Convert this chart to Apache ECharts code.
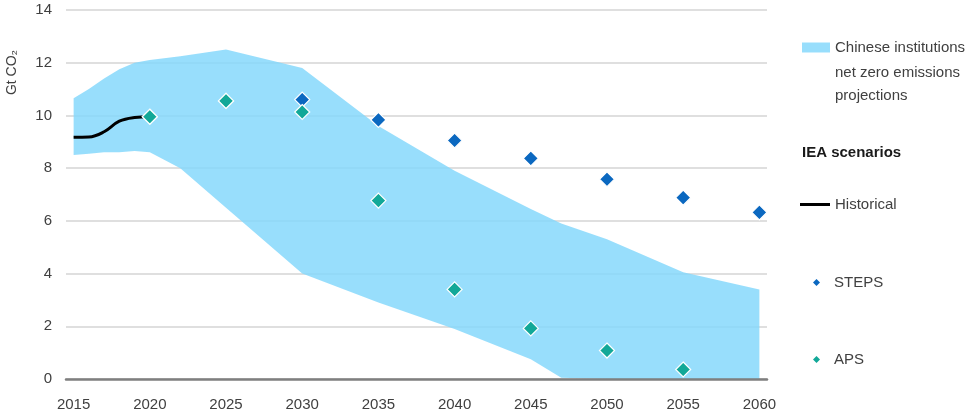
<!DOCTYPE html>
<html>
<head>
<meta charset="utf-8">
<script src="https://cdn.jsdelivr.net/npm/echarts@6/dist/echarts.min.js"></script>
<style>
  html, body { margin: 0; padding: 0; background: #fff; }
  #chart { width: 969px; height: 417px; }
</style>
</head>
<body>
<div id="chart"></div>
<script>
// category years on the x axis
var years = [];
for (var y = 2015; y <= 2060; y++) years.push(String(y));

// Chinese institutions net zero projections (band)
var bandYears = [2015, 2016, 2017, 2018, 2019, 2020, 2022, 2025, 2030, 2035, 2040, 2045, 2047, 2050, 2055, 2060];
var bandUpper = [10.65, 11.0, 11.4, 11.75, 12.0, 12.1, 12.25, 12.5, 11.8, 9.6, 7.9, 6.45, 5.9, 5.3, 4.05, 3.4];
var bandLower = [8.5, 8.55, 8.6, 8.6, 8.65, 8.6, 8.0, 6.5, 4.0, 2.9, 1.9, 0.75, 0.05, 0, 0, 0];

// historical emissions
var histYears = [2015, 2016, 2017, 2018, 2019, 2020];
var histValues = [9.17, 9.18, 9.38, 9.78, 9.92, 9.95];

// IEA scenarios
var scenYears = [2020, 2025, 2030, 2035, 2040, 2045, 2050, 2055, 2060];
var steps = [9.95, 10.55, 10.6, 9.83, 9.05, 8.37, 7.58, 6.88, 6.32];
var aps = [9.95, 10.55, 10.13, 6.77, 3.4, 1.92, 1.08, 0.36, null];

var bandName = 'Chinese institutions net zero emissions projections';
var bandLines = ['Chinese institutions', 'net zero emissions', 'projections'];

function pairs(xs, vs) {
    var out = [];
    for (var i = 0; i < xs.length; i++) {
        if (vs[i] != null) out.push([String(xs[i]), vs[i]]);
    }
    return out;
}

var chart = echarts.init(document.getElementById('chart'));
var font = 'Liberation Sans';
var grey = '#404040';

var option = {
    animation: false,
    textStyle: { fontFamily: font },
    grid: { left: 66, right: 202, top: 10, bottom: 38 },
    title: {
        text: 'IEA scenarios',
        left: 797, top: 140,
        textStyle: { fontFamily: font, fontSize: 15, fontWeight: 'bold', color: '#1a1a1a' }
    },
    graphic: [
        {
            type: 'text',
            left: 5, top: 50,
            rotation: Math.PI / 2,
            style: { text: 'Gt CO\u2082', fontFamily: font, fontSize: 14, fill: grey }
        },
        {
            type: 'text',
            left: 835, top: 61,
            style: { text: bandLines[1] + '\n' + bandLines[2], fontFamily: font, fontSize: 15, lineHeight: 23, fill: grey }
        }
    ],
    legend: [
        {
            data: [bandName], left: 802, top: 40, padding: 0,
            icon: 'rect', itemWidth: 28, itemHeight: 10,
            formatter: function () { return bandLines[0]; },
            textStyle: { fontSize: 15, color: grey }
        },
        {
            data: ['Historical'], left: 800, top: 197, padding: 0,
            icon: 'rect', itemWidth: 30, itemHeight: 3,
            textStyle: { fontSize: 15, color: grey }
        },
        {
            data: ['STEPS'], left: 813, top: 275, padding: 0,
            icon: 'diamond', itemWidth: 7, itemHeight: 7,
            itemStyle: { borderWidth: 0, opacity: 1 },
            textStyle: { fontSize: 15, color: grey, padding: [0, 0, 0, 9] }
        },
        {
            data: ['APS'], left: 813, top: 352, padding: 0,
            icon: 'diamond', itemWidth: 7, itemHeight: 7,
            itemStyle: { borderWidth: 0, opacity: 1 },
            textStyle: { fontSize: 15, color: grey, padding: [0, 0, 0, 9] }
        }
    ],
    xAxis: {
        type: 'category',
        data: years,
        boundaryGap: true,
        z: 10,
        axisLine: { lineStyle: { color: '#7f7f7f', width: 2.5 } },
        axisTick: { show: false },
        axisLabel: { interval: 4, margin: 18, fontSize: 15, color: grey }
    },
    yAxis: {
        type: 'value',
        min: 0, max: 14, interval: 2,
        axisLine: { show: false },
        axisTick: { show: false },
        axisLabel: { margin: 14, fontSize: 15, color: grey },
        splitLine: { lineStyle: { color: '#d4d4d4', width: 1.5 } }
    },
    series: [
        {
            name: 'lower',
            type: 'line',
            stack: 'band',
            symbol: 'none',
            lineStyle: { width: 0 },
            areaStyle: { color: 'rgba(0,0,0,0)' },
            data: pairs(bandYears, bandLower)
        },
        {
            name: bandName,
            type: 'line',
            stack: 'band',
            symbol: 'none',
            lineStyle: { width: 0 },
            itemStyle: { color: '#98defc' },
            areaStyle: { color: '#86d8fc', opacity: 0.85 },
            data: pairs(bandYears, bandUpper.map(function (u, i) { return +(u - bandLower[i]).toFixed(2); }))
        },
        {
            name: 'Historical',
            type: 'line',
            smooth: 0.4,
            symbol: 'none',
            itemStyle: { color: '#000' },
            lineStyle: { color: '#000', width: 3 },
            z: 4,
            data: pairs(histYears, histValues)
        },
        {
            name: 'STEPS',
            type: 'scatter',
            symbol: 'diamond',
            symbolSize: 15,
            itemStyle: { color: '#0b68c0', borderColor: '#fff', borderWidth: 1.2, opacity: 1 },
            z: 5,
            data: pairs(scenYears, steps)
        },
        {
            name: 'APS',
            type: 'scatter',
            symbol: 'diamond',
            symbolSize: 15,
            itemStyle: { color: '#12a898', borderColor: '#fff', borderWidth: 1.2, opacity: 1 },
            z: 6,
            data: pairs(scenYears, aps)
        }
    ]
};

chart.setOption(option);
</script>
</body>
</html>
